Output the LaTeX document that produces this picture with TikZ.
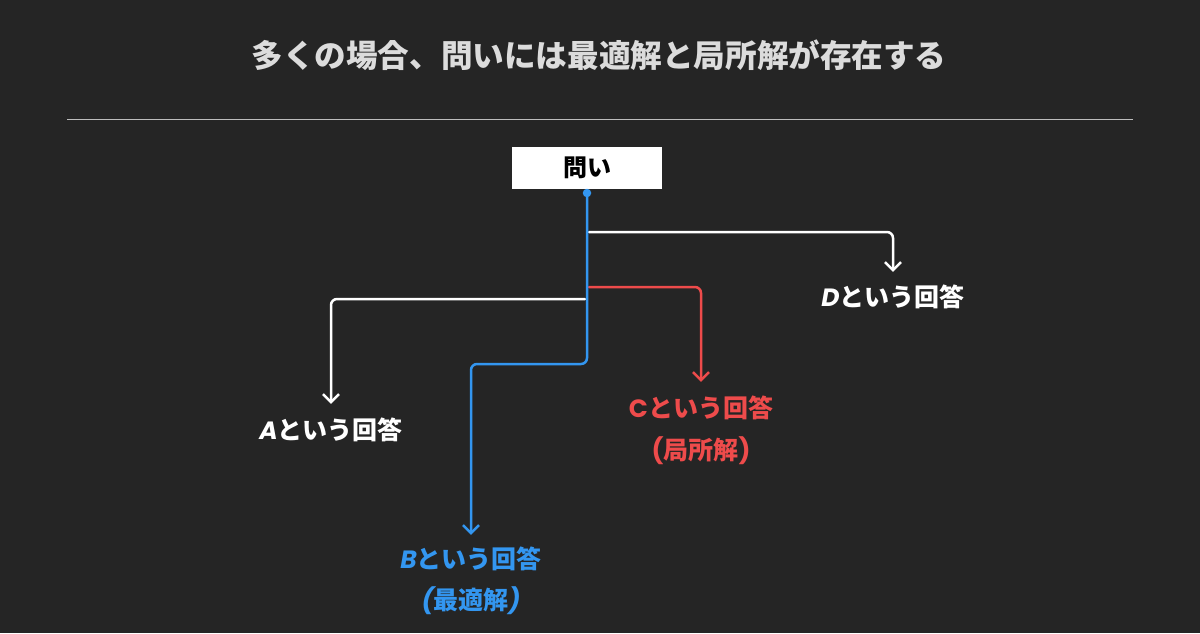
\documentclass[tikz,border=0pt]{standalone}
\usepackage{fontspec}
\setmainfont{Noto Sans CJK JP}
\newfontfamily\pop{Poppins}
\usetikzlibrary{arrows.meta}
\definecolor{bg}{HTML}{252525}
\definecolor{titlec}{HTML}{DCDCDC}
\definecolor{rulec}{HTML}{BDBDBD}
\definecolor{bluec}{HTML}{3396F0}
\definecolor{redc}{HTML}{EE4B4B}
\newcommand{\lti}[1]{{\pop\bfseries\itshape #1}}
\newcommand{\ltu}[1]{{\pop\bfseries #1}}
\tikzset{
  conn/.style={line width=2.5pt, rounded corners=6pt, line cap=round, line join=round,
    -{Straight Barb[length=8pt,width=16pt,line width=2.5pt]}},
  lbl/.style={font=\fontsize{25}{30}\selectfont\bfseries, inner sep=0pt, text height=20pt, text depth=5pt, anchor=base},
  qbox/.style={fill=white, minimum width=150pt, minimum height=42pt, inner sep=0pt,
    font=\fontsize{24}{28}\selectfont\bfseries, text=black}
}
\begin{document}
\begin{tikzpicture}[x=1pt,y=-1pt]
\fill[bg] (0,0) rectangle (1200,633);
\useasboundingbox (0,0) rectangle (1200,633);
\node[font=\fontsize{31.6}{38}\selectfont\bfseries, text=titlec, anchor=base, inner sep=0pt] (title) at (599,67) {多くの場合、問いには最適解と局所解が存在する};
\draw[rulec, line width=1pt] (67,119) -- (1133,119);
\node[qbox] (q) at (587,168) {問い};
\node[lbl, text=white] (A) at (331,439) {\lti{A}という回答};
\node[lbl, text=bluec] (B) at (471,568) {\lti{B}という回答};
\node[lbl, text=bluec] (B2) at (471,609) {\lti{(}最適解\lti{)}};
\node[lbl, text=redc] (C) at (701,417) {\ltu{C}という回答};
\node[lbl, text=redc] (C2) at (701,459) {\ltu{(}局所解\ltu{)}};
\node[lbl, text=white] (D) at (893,306) {\lti{D}という回答};
\coordinate (jD) at (589,232);
\coordinate (jC) at (589,287);
\coordinate (jA) at (585,299);
\draw[conn, white, shorten >=14pt] (jD) -| (D.north);
\draw[conn, redc, shorten >=15pt] (jC) -| (C.north);
\draw[conn, white, shorten >=15pt] (jA) -| (A.north);
\node[circle, fill=bluec, inner sep=0pt, minimum size=8.5pt] (dot) at (587,193) {};
\draw[conn, bluec, shorten >=13pt] (dot.center) -- ++(0,171) -| (B.north);
\end{tikzpicture}
\end{document}
